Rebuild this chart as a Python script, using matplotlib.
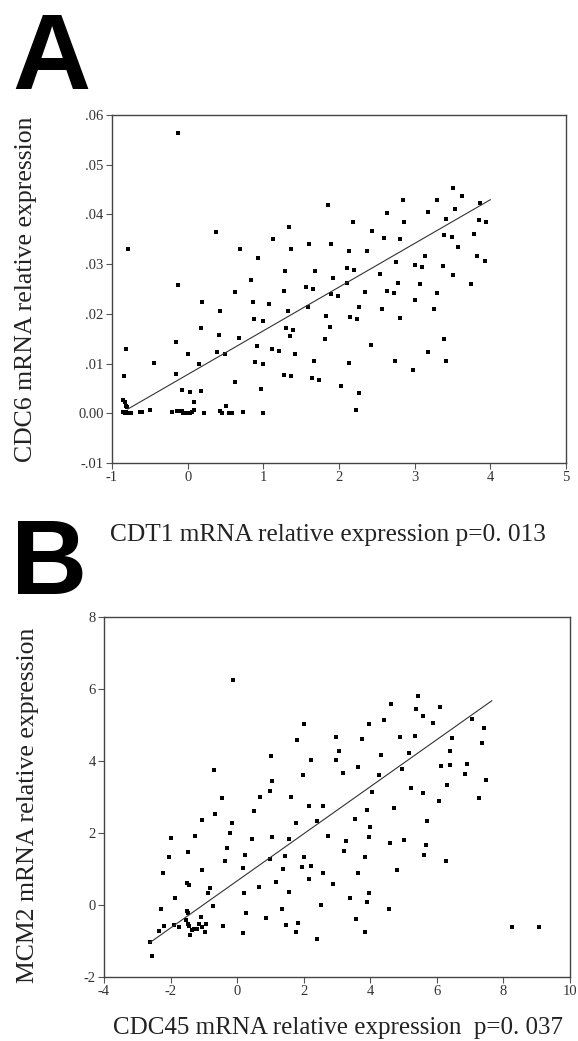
import numpy as np
import matplotlib
matplotlib.use('Agg')
import matplotlib.pyplot as plt

# ── Panel A: CDT1 vs CDC6 ────────────────────────────────────────────
cdt1_x = [
    -0.13, -0.79, -0.13, 0.37, 0.19, 0.18, -0.16, -0.16, 0.00, -0.08,
    0.03, 0.09, 0.18, -0.44, -0.82, -0.84, -0.85, -0.83, -0.82, -0.80,
    -0.85, -0.83, -0.81, -0.79, -0.77, -0.75, -0.63, -0.60, -0.50, -0.21,
    -0.14, -0.11, -0.08, -0.06, -0.03, 0.00, 0.03, 0.06, 0.08, 0.21,
    0.15, 0.39, 0.42, 0.43, 0.49, 0.43, 0.46, 0.50, 0.55, 0.59,
    0.73, 0.62, 0.63, 0.68, 0.69, 0.84, 0.87, 0.88, 0.89, 0.91,
    0.93, 0.97, 0.99, 0.99, 0.99, 1.08, 1.11, 1.13, 1.21, 1.27,
    1.28, 1.27, 1.30, 1.32, 1.34, 1.35, 1.37, 1.37, 1.39, 1.42,
    1.57, 1.59, 1.61, 1.64, 1.66, 1.67, 1.68, 1.74, 1.81, 1.83,
    1.86, 1.88, 1.89, 1.89, 1.92, 1.99, 2.02, 2.10, 2.10, 2.13,
    2.13, 2.15, 2.19, 2.20, 2.23, 2.24, 2.26, 2.27, 2.34, 2.37,
    2.42, 2.43, 2.54, 2.57, 2.59, 2.63, 2.63, 2.73, 2.74, 2.75,
    2.78, 2.81, 2.81, 2.84, 2.86, 2.98, 3.00, 3.01, 3.07, 3.10,
    3.14, 3.17, 3.18, 3.25, 3.29, 3.30, 3.38, 3.39, 3.39, 3.42,
    3.42, 3.49, 3.50, 3.50, 3.53, 3.57, 3.63, 3.75, 3.79, 3.82,
    3.85, 3.87, 3.93, 3.94,
]
cdc6_y = [
    0.0564, 0.0331, 0.0258, 0.0364, 0.0224, 0.0172, 0.0143, 0.0080, 0.0120, 0.0046,
    0.0042, 0.0023, 0.0044, 0.0101, 0.0130, 0.0074, 0.0026, 0.0022, 0.0015, 0.0012,
    0.0002, 0.0001, 0.0002, 0.0001, 0.0001, 0.0001, 0.0003, 0.0003, 0.0007, 0.0003,
    0.0005, 0.0005, 0.0004, 0.0001, 0.0000, 0.0000, 0.0000, 0.0002, 0.0007, 0.0000,
    0.0099, 0.0124, 0.0157, 0.0205, 0.0120, 0.0004, 0.0000, 0.0015, 0.0000, 0.0000,
    0.0003, 0.0063, 0.0243, 0.0151, 0.0331, 0.0268, 0.0224, 0.0189, 0.0103, 0.0136,
    0.0312, 0.0048, 0.0185, 0.0099, 0.0000, 0.0220, 0.0130, 0.0350, 0.0126, 0.0246,
    0.0287, 0.0078, 0.0172, 0.0205, 0.0374, 0.0155, 0.0331, 0.0074, 0.0168, 0.0120,
    0.0255, 0.0214, 0.0341, 0.0071, 0.0251, 0.0105, 0.0287, 0.0067, 0.0149, 0.0195,
    0.0419, 0.0173, 0.0341, 0.0239, 0.0272, 0.0235, 0.0055, 0.0293, 0.0262, 0.0326,
    0.0101, 0.0193, 0.0385, 0.0289, 0.0007, 0.0189, 0.0040, 0.0214, 0.0243, 0.0326,
    0.0138, 0.0366, 0.0281, 0.0209, 0.0352, 0.0403, 0.0245, 0.0241, 0.0105, 0.0305,
    0.0262, 0.0350, 0.0191, 0.0429, 0.0385, 0.0087, 0.0299, 0.0227, 0.0260, 0.0295,
    0.0316, 0.0405, 0.0124, 0.0209, 0.0429, 0.0241, 0.0297, 0.0358, 0.0149, 0.0391,
    0.0105, 0.0354, 0.0454, 0.0279, 0.0410, 0.0335, 0.0437, 0.0260, 0.0360, 0.0316,
    0.0389, 0.0422, 0.0307, 0.0385,
]
fit_a_x = [-0.79, 4.0]
fit_a_slope = 0.00879
fit_a_intercept = 0.0078

a_xticks = [-1, 0, 1, 2, 3, 4, 5]
a_yticks = [0.06, 0.05, 0.04, 0.03, 0.02, 0.01, 0.0, -0.01]
a_ylabels = ['.06', '.05', '.04', '.03', '.02', '.01', '0.00', '-.01']

# ── Panel B: CDC45 vs MCM2 ───────────────────────────────────────────
cdc45_x = [
    -0.11, -0.69, -0.67, -0.46, -1.07, -1.26, -2.00, -2.04, -2.24, -1.48,
    -1.07, -1.50, -1.46, -1.87, -2.30, -2.36, -2.20, -1.91, -1.76, -2.62,
    -2.55, -1.50, -1.47, -1.53, -1.49, -1.46, -1.43, -1.37, -1.30, -1.25,
    -1.20, -1.14, -1.09, -1.05, -0.98, -0.93, -0.89, -0.81, -0.72, -0.42,
    -0.37, -0.30, -0.20, -0.14, 0.18, 0.18, 0.21, 0.25, 0.28, 0.44,
    0.50, 0.67, 0.70, 0.86, 0.98, 0.99, 1.01, 1.05, 1.05, 1.18,
    1.36, 1.38, 1.44, 1.47, 1.57, 1.56, 1.63, 1.76, 1.76, 1.81,
    1.82, 1.96, 1.98, 2.01, 2.01, 2.15, 2.15, 2.21, 2.21, 2.39,
    2.40, 2.53, 2.59, 2.59, 2.73, 2.88, 2.98, 2.98, 3.05, 3.17,
    3.21, 3.27, 3.40, 3.55, 3.58, 3.62, 3.63, 3.74, 3.84, 3.85,
    3.90, 3.91, 3.95, 3.95, 3.97, 4.00, 4.05, 4.27, 4.33, 4.41,
    4.55, 4.59, 4.63, 4.72, 4.81, 4.90, 4.96, 5.01, 5.17, 5.23,
    5.33, 5.36, 5.43, 5.58, 5.59, 5.62, 5.69, 5.68, 5.89, 6.07,
    6.10, 6.13, 6.27, 6.29, 6.39, 6.39, 6.46, 6.84, 6.90, 7.07,
    7.26, 7.36, 7.42, 7.49, 8.27, 9.07,
]
mcm2_y = [
    6.25, 3.75, 2.52, 2.98, 2.35, 1.92, 1.87, 1.34, 0.88, 1.47,
    0.97, 0.61, 0.56, 0.20, -0.10, -0.72, -0.58, -0.55, -0.60, -1.02,
    -1.42, -0.17, -0.21, -0.43, -0.52, -0.57, -0.83, -0.70, -0.66, -0.66,
    -0.66, -0.52, -0.33, -0.61, -0.75, -0.52, 0.33, 0.46, -0.04, -0.57,
    1.22, 1.57, 2.01, 2.28, 1.04, -0.79, 0.34, 1.39, -0.22, 1.84,
    2.61, 0.50, 3.00, -0.37, 3.18, 1.28, 4.14, 3.45, 1.89, 0.64,
    -0.10, 1.01, 1.36, -0.55, 0.35, 1.84, 3.00, -0.75, 2.29, 4.58,
    -0.49, 1.06, 3.60, 5.03, 1.34, 2.76, 0.73, 1.09, 4.04, 2.32,
    -0.94, 0.00, 2.76, 0.88, 1.92, 0.58, 4.68, 4.02, 4.28, 3.67,
    1.51, 1.78, 0.20, 2.40, -0.38, 3.84, 0.88, 4.60, 1.34, -0.75,
    2.64, 0.07, 5.03, 1.89, 0.33, 2.17, 3.15, 3.60, 4.17, 5.15,
    -0.10, 1.73, 5.59, 2.70, 0.97, 4.68, 3.78, 1.81, 4.23, 3.24,
    4.69, 5.45, 5.81, 5.24, 3.11, 1.39, 2.34, 1.66, 5.06, 2.89,
    5.50, 3.87, 1.22, 3.33, 4.28, 3.90, 4.65, 3.65, 3.92, 5.16,
    2.98, 4.49, 4.91, 3.48, -0.61, -0.61,
]
fit_b_x = [-2.62, 7.65]
fit_b_slope = 0.654
fit_b_intercept = 0.67

b_xticks = [-4, -2, 0, 2, 4, 6, 8, 10]
b_yticks = [8, 6, 4, 2, 0, -2]

# ── Figure ───────────────────────────────────────────────────────────
W, H = 578, 1041
SERIF = ['Liberation Serif', 'DejaVu Serif']
SANS = ['Liberation Sans', 'DejaVu Sans']


def box(left, top, right, bottom):
    """pixel box -> figure fraction rect"""
    return [left / W, 1 - bottom / H, (right - left) / W, (bottom - top) / H]


def style_axes(ax):
    for sp in ax.spines.values():
        sp.set_color('#444444')
        sp.set_linewidth(1.0)
    ax.tick_params(direction='out', length=4, width=0.8, color='#555555',
                   labelsize=10.5, labelcolor='#333333', pad=2)
    for lab in ax.get_xticklabels() + ax.get_yticklabels():
        lab.set_family(SERIF)


fig = plt.figure(figsize=(W / 100, H / 100), dpi=100)
fig.patch.set_facecolor('white')

# panel A
ax_a = fig.add_axes(box(112, 115, 566, 463))
ax_a.plot(cdt1_x, cdc6_y, 's', color='black', markersize=3.4, markeredgewidth=0)
xs = np.array(fit_a_x)
ax_a.plot(xs, fit_a_intercept + fit_a_slope * xs, color='#333333', linewidth=0.8)
ax_a.set_xlim(-1, 5)
ax_a.set_ylim(-0.01, 0.06)
ax_a.set_xticks(a_xticks)
ax_a.set_xticklabels([str(t) for t in a_xticks])
ax_a.set_yticks(a_yticks)
ax_a.set_yticklabels(a_ylabels)
style_axes(ax_a)

# panel B
ax_b = fig.add_axes(box(104, 617, 570, 977))
ax_b.plot(cdc45_x, mcm2_y, 's', color='black', markersize=3.4, markeredgewidth=0)
xs = np.array(fit_b_x)
ax_b.plot(xs, fit_b_intercept + fit_b_slope * xs, color='#333333', linewidth=0.8)
ax_b.set_xlim(-4, 10)
ax_b.set_ylim(-2, 8)
ax_b.set_xticks(b_xticks)
ax_b.set_xticklabels([str(t) for t in b_xticks])
ax_b.set_yticks(b_yticks)
ax_b.set_yticklabels([str(t) for t in b_yticks])
style_axes(ax_b)

# panel letters
fig.text(12 / W, 1 - 89 / H, 'A', family=SANS, fontsize=78, fontweight='bold',
         va='baseline', ha='left', color='black')
fig.text(11 / W, 1 - 594 / H, 'B', family=SANS, fontsize=76, fontweight='bold',
         va='baseline', ha='left', color='black')

# axis titles
fig.text(110 / W, 1 - 535 / H, 'CDT1 mRNA relative expression p=0. 013',
         family=SERIF, fontsize=18.3, ha='left', va='center', color='#222222')
fig.text(113 / W, 1 - 1028 / H, 'CDC45 mRNA relative expression  p=0. 037',
         family=SERIF, fontsize=18, ha='left', va='center', color='#222222')
fig.text(26 / W, 1 - 289 / H, 'CDC6 mRNA relative expression',
         family=SERIF, fontsize=18.5, rotation=90, ha='center', va='center',
         color='#222222')
fig.text(28 / W, 1 - 805 / H, 'MCM2 mRNA relative expression',
         family=SERIF, fontsize=18.5, rotation=90, ha='center', va='center',
         color='#222222')

fig.savefig('out.png', dpi=100, facecolor='white')
